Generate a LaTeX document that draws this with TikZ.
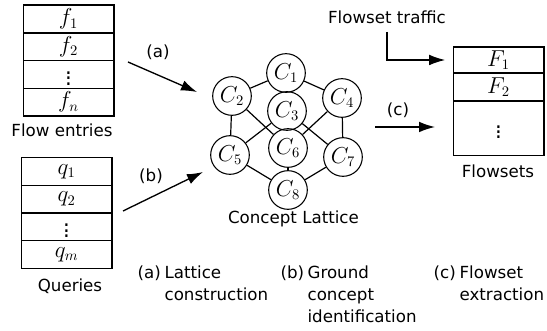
\documentclass[tikz,border=0pt]{standalone}
\usepackage{fontspec}
\setmainfont{DejaVu Sans}
\usepackage{amsmath, amssymb}
\usetikzlibrary{positioning, arrows.meta}

\begin{document}
\begin{tikzpicture}[x=0.75pt, y=-0.75pt, font=\fontsize{12.5}{16.5}\selectfont,
  every path/.style={line width=0.9pt},
  cell/.style={draw, line width=1pt, minimum width=68pt, minimum height=20.8pt, inner sep=0pt, outer sep=0pt, font=\fontsize{16}{18}\selectfont},
  concept/.style={draw, line width=0.8pt, circle, minimum size=29pt, inner sep=0pt, font=\fontsize{16}{18}\selectfont},
  flowarrow/.style={line width=1pt, -{Latex[length=12pt, width=8pt]}},
  steplbl/.style={anchor=north west, inner sep=0pt, align=left},
]
\useasboundingbox (0,0) rectangle (547,331);

% Flow entries table
\node[cell] (f1) at (68.5,19) {$f_1$};
\node[cell, below=0pt of f1] (f2) {$f_2$};
\node[cell, below=0pt of f2] (fdots) {$\vdots$};
\node[cell, below=0pt of fdots] (fn) {$f_n$};
\node (flowlbl) at (62,130) {Flow entries};

% Queries table
\node[cell] (q1) at (66.5,171.5) {$q_1$};
\node[cell, below=0pt of q1] (q2) {$q_2$};
\node[cell, below=0pt of q2] (qdots) {$\vdots$};
\node[cell, below=0pt of qdots] (qm) {$q_m$};
\node (querylbl) at (70,286) {Queries};

% Concept lattice
\node[concept] (c1) at (286,73) {$C_1$};
\node[concept] (c2) at (232,96) {$C_2$};
\node[concept] (c3) at (287,111) {$C_3$};
\node[concept] (c4) at (342,98) {$C_4$};
\node[concept] (c5) at (230,155) {$C_5$};
\node[concept] (c6) at (288,148) {$C_6$};
\node[concept] (c7) at (343,157) {$C_7$};
\node[concept] (c8) at (288,190) {$C_8$};
\node (latticelbl) at (293.5,219) {Concept Lattice};

\draw (c1) -- (c2);
\draw (c1) -- (c3);
\draw (c1) -- (c4);
\draw (c2) -- (c5);
\draw (c2) -- (c6);
\draw (c3) -- (c5);
\draw (c3) -- (c7);
\draw (c4) -- (c6);
\draw (c4) -- (c7);
\draw (c5) -- (c8);
\draw (c6) -- (c8);
\draw (c7) -- (c8);

% Flowsets table
\node[cell, minimum height=19.5pt] (F1) at (498.5,60) {$F_1$};
\node[cell, minimum height=21pt, below=0pt of F1] (F2) {$F_2$};
\node[cell, minimum height=41pt, below=0pt of F2] (Fdots) {$\vdots$};
\node (flowsetlbl) at (498,171) {Flowsets};

% Flowset traffic goes into the flowsets
\node (traffic) at (387,17) {Flowset traffic};
\coordinate (trafficstart) at (387,32);
\draw[flowarrow, shorten >=6pt] (trafficstart) |- (F1.west);

% Steps
\coordinate (astart) at (128,62);
\coordinate (aend) at (197,92);
\draw[flowarrow] (astart) -- (aend);
\node (alabel) at (158,52) {(a)};

\coordinate (bstart) at (123,211);
\coordinate (bend) at (203,172);
\draw[flowarrow] (bstart) -- (bend);
\node (blabel) at (151,176) {(b)};

\coordinate (cstart) at (375,127);
\coordinate (cend) at (435,127);
\draw[flowarrow] (cstart) -- (cend);
\node (clabel) at (398,110) {(c)};

% Step captions
\node[steplbl] (anum) at (137,265) {(a)};
\node[steplbl] (acap) at (164,265) {Lattice\\construction};
\node[steplbl] (bnum) at (280,265) {(b)};
\node[steplbl] (bcap) at (307,265) {Ground\\concept\\identification};
\node[steplbl] (cnum) at (433,265) {(c)};
\node[steplbl] (ccap) at (459,265) {Flowset\\extraction};

\end{tikzpicture}
\end{document}
